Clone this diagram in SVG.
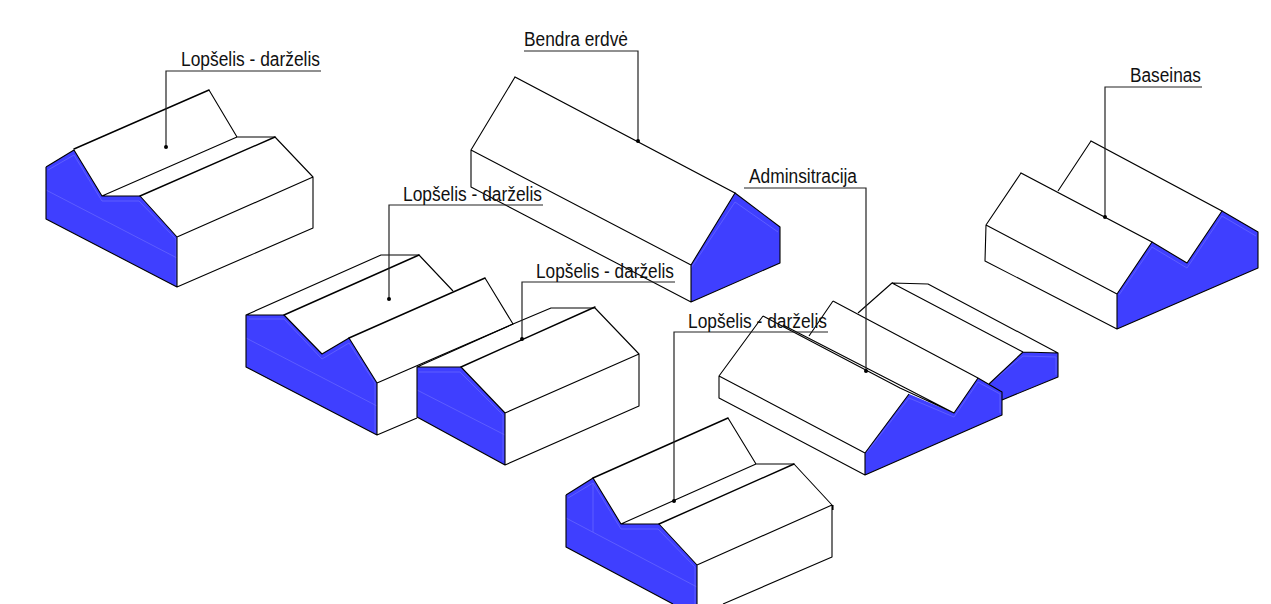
<svg xmlns="http://www.w3.org/2000/svg" width="1271" height="604" viewBox="0 0 1271 604">
<style>
.bl{fill:#3f3fff;stroke:none}
.in{fill:none;stroke:#6a6aff;stroke-width:.7}
.e{fill:none;stroke:#000;stroke-width:1.1;stroke-linejoin:round}
.r{fill:none;stroke:#000;stroke-width:1.4;stroke-linecap:round}
.ld{fill:none;stroke:#222;stroke-width:1.2}
.d{fill:#000}
text{font-family:"Liberation Sans",Arial,sans-serif;font-size:20px;fill:#111}
</style>
<rect width="1271" height="604" fill="#fff"/>
<g id="bendra">
<path class="bl" d="M735 193L780 227V263L691 302V265Z"/>
<path class="in" d="M735 202L691 268M735 202L778 232"/>
<path class="e" d="M515 77L471 150V187L691 302L780 263V227L735 193L691 265L471 150M691 265V302"/>
<path class="r" d="M515 77L735 193"/>
</g>
<g id="adminback">
<path class="bl" d="M1023 352L1058 353V377L1002 400L989 384Z"/>
<path class="in" d="M989 384L1023 356L1056 357V375"/>
<path class="e" d="M858 313L892 283L928 284L1058 353V377L1002 400M892 283L1023 352L1058 353M1023 352L989 384"/>
</g>
<g id="admin">
<path class="bl" d="M865 453L909 394L954 413L978 378L1002 392V415L865 475Z"/>
<path class="in" d="M867 452L909 398L954 417L978 382L1000 394V413"/>
<path class="e" d="M763 316L900 388L954 413L978 378L1002 392V415L865 475L719 398V376L763 316M719 376L865 453L909 394M865 453V475M833 301L978 378M833 301L809 336M783 325L954 413"/>
</g>
<g id="lopselis1">
<path class="bl" d="M46 167L74 150L102 196H140L177 237V287L46 219Z"/>
<path class="in" d="M48 170L74 155L102 201H139L176 239V285M46 190L177 258"/>
<path class="e" d="M46 167L74 150L102 196H140L177 237L313 177L275 137H237L209 90M237 137L102 196M313 177V228L177 287L46 219V167M177 237V287"/>
<path class="r" d="M74 149L209 90M140 196L275 137"/>
</g>
<g id="lopselis2">
<path class="bl" d="M246 315H284L322 354L349 338L377 383V435L246 367Z"/>
<path class="in" d="M249 319H284L322 359L349 343L375 383V433M246 338L377 406"/>
<path class="e" d="M246 315H284L322 354L349 338L377 383V435L246 367V315L381 255H419L453 291M485 278L513 324L377 383M377 435L417 418"/>
<path class="r" d="M284 315L419 255M349 338L485 278"/>
</g>
<g id="lopselis3">
<path class="bl" d="M417 367H461L505 413V465L417 417Z"/>
<path class="in" d="M419 372H460L503 415V461M417 390L505 435"/>
<path class="e" d="M417 367H461L505 413V465L417 417V367L513 324L551 308H595L639 354L505 413M639 354V406L505 465"/>
<path class="r" d="M461 367L595 307"/>
</g>
<g id="lopselis4">
<path class="bl" d="M566 495L593 478L621 524H659L697 565V604H673L566 547Z"/>
<path class="in" d="M568 498L593 483L621 529H658L695 567V604M566 518L697 587M593 483V532"/>
<path class="e" d="M566 495L593 478L621 524H659L697 565L832 505L794 464H756L728 418M756 464L621 524M832 505V557L723 604M566 495V547L673 604M697 565V604M833 505V510"/>
<path class="r" d="M593 478L728 418M659 524L794 464"/>
</g>
<g id="baseinas">
<path class="bl" d="M1117 294L1152 242L1187 263L1222 211L1258 232V268L1117 329Z"/>
<path class="in" d="M1119 295L1152 247L1187 268L1222 216L1256 236"/>
<path class="e" d="M1152 242L1187 263L1222 211L1258 232V268L1117 329L985 261L986 225L1021 173M986 225L1117 294L1152 242M1117 294V329M1091 141L1058 191"/>
<path class="r" d="M1021 173L1152 242M1091 141L1222 211"/>
</g>
<g id="connectors">
<path class="ld" d="M321 71H166V147"/><circle class="d" cx="166" cy="147" r="2"/>
<path class="ld" d="M524 51H638V141"/><circle class="d" cx="638" cy="141" r="2"/>
<path class="ld" d="M543 205H389V299"/><circle class="d" cx="389" cy="299" r="2"/>
<path class="ld" d="M675 282H522V339"/><circle class="d" cx="522" cy="339" r="2"/>
<path class="ld" d="M828 332H674V501"/><circle class="d" cx="674" cy="501" r="2"/>
<path class="ld" d="M744 188H866V371"/><circle class="d" cx="866" cy="371" r="2"/>
<path class="ld" d="M1202 87H1105V217"/><circle class="d" cx="1105" cy="217" r="2"/>
</g>
<g id="labels">
<text x="181" y="65.5" textLength="139" lengthAdjust="spacingAndGlyphs">Lopšelis - darželis</text>
<text x="524" y="46" textLength="104" lengthAdjust="spacingAndGlyphs">Bendra erdvė</text>
<text x="403" y="201" textLength="139" lengthAdjust="spacingAndGlyphs">Lopšelis - darželis</text>
<text x="536" y="278" textLength="138" lengthAdjust="spacingAndGlyphs">Lopšelis - darželis</text>
<text x="688" y="328" textLength="139" lengthAdjust="spacingAndGlyphs">Lopšelis - darželis</text>
<text x="749" y="183" textLength="108" lengthAdjust="spacingAndGlyphs">Adminsitracija</text>
<text x="1130" y="82" textLength="71" lengthAdjust="spacingAndGlyphs">Baseinas</text>
</g>
</svg>
